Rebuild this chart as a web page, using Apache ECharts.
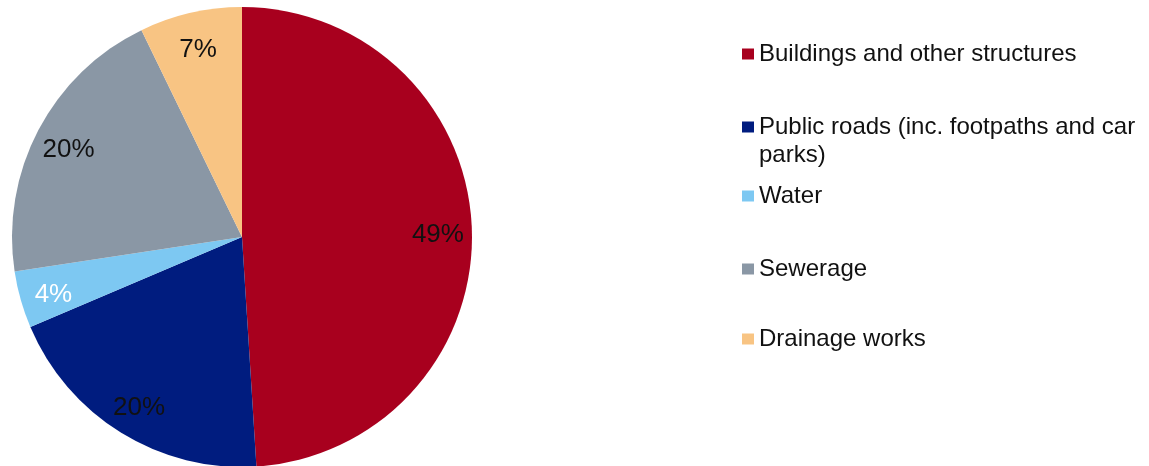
<!DOCTYPE html>
<html>
<head>
<meta charset="utf-8">
<script src="https://cdn.jsdelivr.net/npm/echarts@6/dist/echarts.min.js"></script>
<style>
  html, body { margin: 0; padding: 0; background: #fff; }
  #chart { width: 1149px; height: 466px; }
</style>
</head>
<body>
<div id="chart"></div>
<script>
// slice names, shares (%), colours
const categories = ['Buildings and other structures', 'Public roads (inc. footpaths and car parks)', 'Water', 'Sewerage', 'Drainage works'];
const shares = [49, 19.6, 4, 20.2, 7.2];
const colors = ['#a8001e', '#001c7f', '#7dc8f2', '#8a97a5', '#f8c483'];
const labelColors = ['#111', '#111', '#fff', '#111', '#111'];

// y of each legend row (first line of text)
const legendRowY = [54, 127, 196, 269, 339];
const LINE_H = 28;

const chart = echarts.init(document.getElementById('chart'));

const pieData = categories.map((name, i) => ({
  name: name,
  value: shares[i],
  itemStyle: {color: colors[i]}
}));

// transparent ring on top, only to put the labels near the rim like the original
const labelData = categories.map((name, i) => ({
  name: name,
  value: shares[i],
  itemStyle: {color: 'rgba(0,0,0,0)'},
  label: {color: labelColors[i]}
}));

// one legend per row so the wrapped entry doesn't push the others down
const legends = categories.map((name, i) => {
  const wrapped = name.indexOf('car parks') >= 0;
  return {
    orient: 'vertical',
    left: 742,
    // wrapped entry gets an empty line on top so the marker sits on its first line
    top: legendRowY[i] - (wrapped ? LINE_H * 1.5 : LINE_H / 2),
    padding: 0,
    icon: 'rect',
    itemWidth: 12,
    itemHeight: 11,
    data: [name],
    formatter: (n) => wrapped ? '\n' + n.replace('car parks', 'car\nparks') : n,
    textStyle: {
      fontFamily: 'Liberation Sans, Arial, sans-serif',
      fontSize: 24,
      color: '#111',
      lineHeight: LINE_H
    }
  };
});

chart.setOption({
  animation: false,
  legend: legends,
  series: [
    {
      type: 'pie',
      center: [242, 237],
      radius: [0, 230],
      startAngle: 90,
      clockwise: true,
      label: {show: false},
      labelLine: {show: false},
      data: pieData
    },
    {
      type: 'pie',
      center: [242, 237],
      radius: [156, 230],
      startAngle: 90,
      clockwise: true,
      silent: true,
      avoidLabelOverlap: false,
      label: {
        show: true,
        position: 'inside',
        offset: [0, 4],
        fontFamily: 'Liberation Sans, Arial, sans-serif',
        fontSize: 26,
        formatter: (p) => Math.round(p.percent) + '%'
      },
      labelLine: {show: false},
      emphasis: {disabled: true},
      data: labelData
    }
  ]
});
</script>
</body>
</html>
